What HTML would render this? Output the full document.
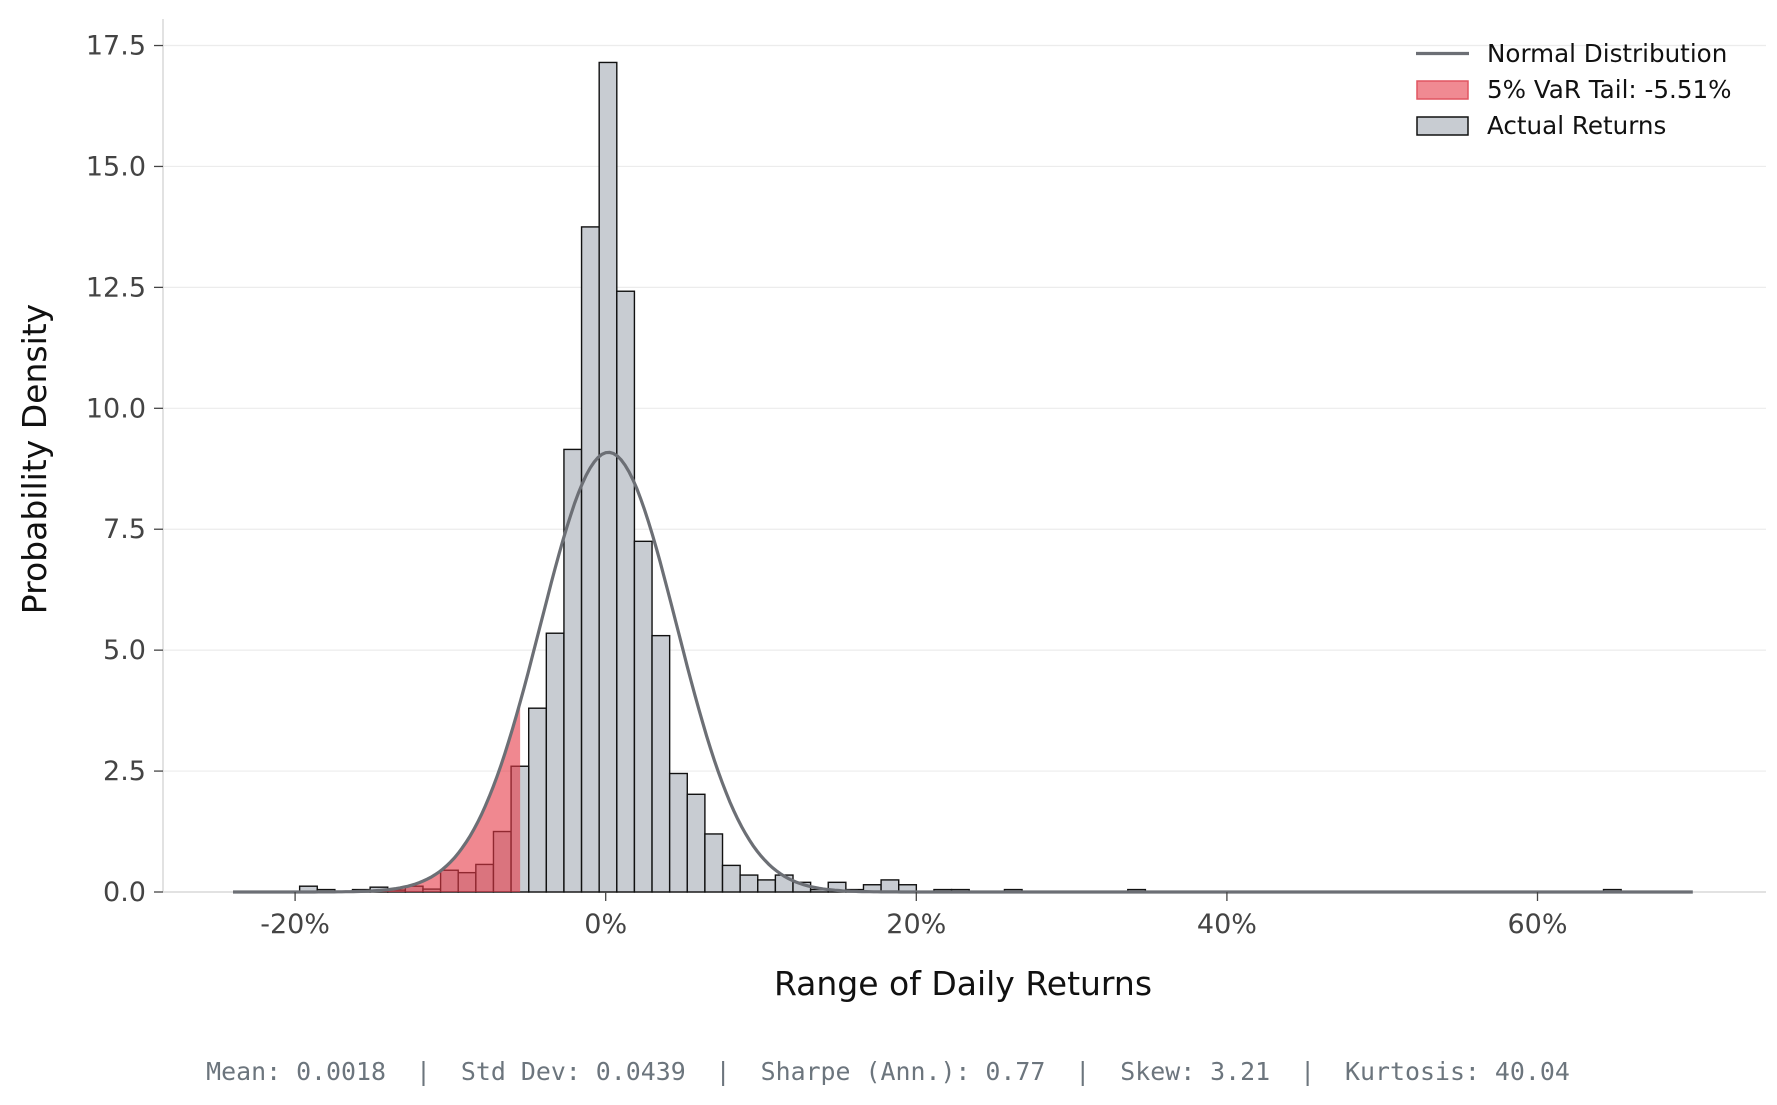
<!DOCTYPE html>
<html><head><meta charset="utf-8"><style>
html,body{margin:0;padding:0;background:#fff;}
svg{display:block;font-family:"DejaVu Sans","Liberation Sans",sans-serif;}
</style></head><body>
<svg id="s" width="1777" height="1105" viewBox="0 0 1777 1105" xmlns="http://www.w3.org/2000/svg">
<g id="grid"></g>
<line x1="163" y1="19" x2="163" y2="892" stroke="#d9d9d9" stroke-width="1.5"/>
<line x1="163" y1="892" x2="1766" y2="892" stroke="#d9d9d9" stroke-width="1.5"/>
<g id="bars"></g>
<path id="fill" fill="#e63946" fill-opacity="0.6" stroke="none"/>
<path id="curve" fill="none" stroke="#6c6f75" stroke-width="3.2"/>
<g id="ticks" fill="#444" font-size="27"></g>
<text x="0" y="0" transform="translate(46,459) rotate(-90)" text-anchor="middle" font-size="33" fill="#111">Probability Density</text>
<text x="963" y="995" text-anchor="middle" font-size="33" fill="#111">Range of Daily Returns</text>
<text x="888" y="1080" text-anchor="middle" font-family="'DejaVu Sans Mono','Liberation Mono',monospace" font-size="24.9" fill="#6c757d" xml:space="preserve">Mean: 0.0018  |  Std Dev: 0.0439  |  Sharpe (Ann.): 0.77  |  Skew: 3.21  |  Kurtosis: 40.04</text>
<g font-size="24.6" fill="#111">
<line x1="1416" y1="53.5" x2="1469" y2="53.5" stroke="#6c6f75" stroke-width="3.2"/>
<text x="1487" y="62">Normal Distribution</text>
<rect x="1417" y="81" width="51" height="18" fill="#f08a92" stroke="#e05561" stroke-width="1.5"/>
<text x="1487" y="98">5% VaR Tail: -5.51%</text>
<rect x="1417" y="117" width="51" height="18" fill="#c8ccd2" stroke="#111" stroke-width="1.5"/>
<text x="1487" y="134">Actual Returns</text>
</g>
</svg>
<script>
var ns="http://www.w3.org/2000/svg";
function X(p){return 605.7+p*15.53;}
function Y(d){return 892-d*48.37;}
function el(t,a,par){var e=document.createElementNS(ns,t);for(var k in a)e.setAttribute(k,a[k]);document.getElementById(par).appendChild(e);return e;}
[0,2.5,5,7.5,10,12.5,15,17.5].forEach(function(v){
 var y=Y(v);
 if(v>0) el("line",{x1:163,x2:1766,y1:y,y2:y,stroke:"#ececec","stroke-width":1.2},"grid");
 el("line",{x1:154,x2:163,y1:y,y2:y,stroke:"#444","stroke-width":1.3},"ticks");
 var t=el("text",{x:146,y:y+9,"text-anchor":"end"},"ticks");t.textContent=v.toFixed(1);
});
[-20,0,20,40,60].forEach(function(v){
 var x=X(v);
 el("line",{x1:x,x2:x,y1:892,y2:901,stroke:"#444","stroke-width":1.3},"ticks");
 var t=el("text",{x:x,y:933,"text-anchor":"middle"},"ticks");t.textContent=v+"%";
});
var e0=528.7,w=17.62;
var h={"-13":0.12,"-12":0.05,"-10":0.05,"-9":0.1,"-8":0.04,"-7":0.12,"-6":0.06,"-5":0.45,"-4":0.4,"-3":0.57,"-2":1.25,"-1":2.6,
"0":3.8,"1":5.35,"2":9.15,"3":13.75,"4":17.15,"5":12.42,"6":7.25,"7":5.3,"8":2.45,"9":2.02,"10":1.2,"11":0.55,"12":0.35,"13":0.25,"14":0.35,"15":0.2,"16":0.05,"17":0.2,"18":0.05,"19":0.15,"20":0.25,"21":0.15,"23":0.05,"24":0.05,"27":0.05,"34":0.05,"61":0.05};
for(var k in h){var i=+k,x=e0+i*w;el("rect",{x:x,y:Y(h[k]),width:w,height:h[k]*48.37,fill:"#c8ccd2",stroke:"#111","stroke-width":1.4},"bars");}
function pdf(p){var m=0.18,s=4.39;return 9.09*Math.exp(-0.5*Math.pow((p-m)/s,2));}
var d="",f="";var lo=-24,hi=70;
for(var p=lo;p<=hi+1e-9;p+=0.25){d+=(d?"L":"M")+X(p).toFixed(1)+","+Y(pdf(p)).toFixed(1);}
document.getElementById("curve").setAttribute("d",d);
f="M"+X(lo)+","+Y(0);
for(var p=lo;p<=-5.51;p+=0.2){f+="L"+X(p).toFixed(1)+","+Y(pdf(p)).toFixed(1);}
f+="L"+X(-5.51)+","+Y(pdf(-5.51))+"L"+X(-5.51)+","+Y(0)+"Z";
document.getElementById("fill").setAttribute("d",f);
</script>
</body></html>
